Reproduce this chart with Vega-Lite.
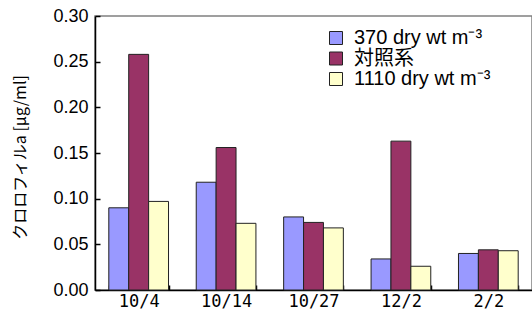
{
  "$schema": "https://vega.github.io/schema/vega-lite/v6.json",
  "width": 437,
  "height": 274,
  "autosize": {"type": "none"},
  "padding": {"left": 95, "top": 16, "right": 0, "bottom": 32},
  "background": "white",
  "config": {
    "view": {"stroke": "#808080", "strokeWidth": 1.5},
    "font": "Liberation Sans"
  },
  "data": {
    "values": [
      {"date": "10/4", "series": "370 dry wt m⁻³", "value": 0.090},
      {"date": "10/4", "series": "対照系", "value": 0.258},
      {"date": "10/4", "series": "1110 dry wt m⁻³", "value": 0.097},
      {"date": "10/14", "series": "370 dry wt m⁻³", "value": 0.118},
      {"date": "10/14", "series": "対照系", "value": 0.156},
      {"date": "10/14", "series": "1110 dry wt m⁻³", "value": 0.073},
      {"date": "10/27", "series": "370 dry wt m⁻³", "value": 0.080},
      {"date": "10/27", "series": "対照系", "value": 0.074},
      {"date": "10/27", "series": "1110 dry wt m⁻³", "value": 0.068},
      {"date": "12/2", "series": "370 dry wt m⁻³", "value": 0.034},
      {"date": "12/2", "series": "対照系", "value": 0.163},
      {"date": "12/2", "series": "1110 dry wt m⁻³", "value": 0.026},
      {"date": "2/2", "series": "370 dry wt m⁻³", "value": 0.040},
      {"date": "2/2", "series": "対照系", "value": 0.044},
      {"date": "2/2", "series": "1110 dry wt m⁻³", "value": 0.043}
    ]
  },
  "mark": {"type": "bar", "stroke": "#222222", "strokeWidth": 1},
  "encoding": {
    "x": {
      "field": "date",
      "type": "nominal",
      "sort": ["10/4", "10/14", "10/27", "12/2", "2/2"],
      "scale": {"paddingInner": 0.317, "paddingOuter": 0.158},
      "axis": {
        "title": null,
        "labelAngle": 0,
        "labelFont": "DejaVu Sans Mono",
        "labelFontSize": 17,
        "labelColor": "black",
        "labelPadding": 8,
        "domainColor": "black",
        "domainWidth": 1.5,
        "tickBand": "extent",
        "tickSize": -5,
        "tickColor": "black",
        "tickWidth": 1.5
      }
    },
    "xOffset": {
      "field": "series",
      "type": "nominal",
      "sort": ["370 dry wt m⁻³", "対照系", "1110 dry wt m⁻³"],
      "scale": {"paddingInner": 0, "paddingOuter": 0}
    },
    "y": {
      "field": "value",
      "type": "quantitative",
      "scale": {"domain": [0, 0.3], "nice": false},
      "axis": {
        "title": "クロロフィルa [μg/ml]",
        "titleFont": "Noto Sans CJK JP",
        "titleFontSize": 16,
        "titleFontWeight": "normal",
        "titleColor": "black",
        "titleAngle": -90,
        "titleX": -75,
        "titleY": 141,
        "titleAlign": "center",
        "titleBaseline": "middle",
        "values": [0, 0.05, 0.1, 0.15, 0.2, 0.25, 0.3],
        "format": ".2f",
        "grid": false,
        "labelFontSize": 18,
        "labelColor": "black",
        "labelPadding": 12,
        "domainColor": "black",
        "domainWidth": 1.5,
        "tickSize": -5,
        "tickColor": "black",
        "tickWidth": 1.5
      }
    },
    "color": {
      "field": "series",
      "type": "nominal",
      "sort": ["370 dry wt m⁻³", "対照系", "1110 dry wt m⁻³"],
      "scale": {
        "domain": ["370 dry wt m⁻³", "対照系", "1110 dry wt m⁻³"],
        "range": ["#9999FF", "#993366", "#FFFFCC"]
      },
      "legend": {
        "title": null,
        "orient": "none",
        "legendX": 231,
        "legendY": 12,
        "symbolType": "square",
        "symbolSize": 169,
        "symbolStrokeColor": "#222222",
        "symbolStrokeWidth": 1,
        "labelFont": "Liberation Sans, Noto Sans CJK JP",
        "labelFontSize": 20,
        "labelColor": "black",
        "rowPadding": 0.5,
        "labelOffset": 8
      }
    }
  }
}
